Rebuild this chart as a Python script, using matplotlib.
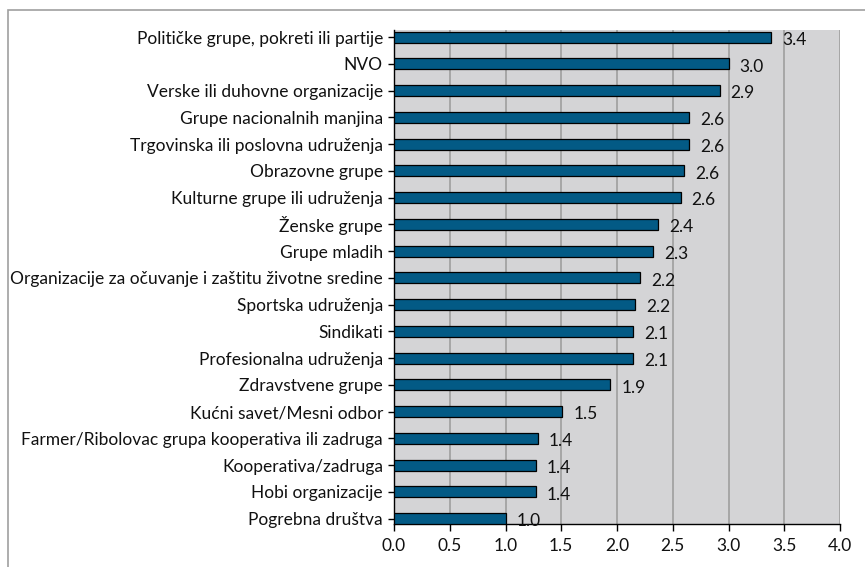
import matplotlib
matplotlib.use("Agg")
import matplotlib.pyplot as plt
from matplotlib.patches import Rectangle

categories = [
    "Političke grupe, pokreti ili partije",
    "NVO",
    "Verske ili duhovne organizacije",
    "Grupe nacionalnih manjina",
    "Trgovinska ili poslovna udruženja",
    "Obrazovne grupe",
    "Kulturne grupe ili udruženja",
    "Ženske grupe",
    "Grupe mladih",
    "Organizacije za očuvanje i zaštitu životne sredine",
    "Sportska udruženja",
    "Sindikati",
    "Profesionalna udruženja",
    "Zdravstvene grupe",
    "Kućni savet/Mesni odbor",
    "Farmer/Ribolovac grupa kooperativa ili zadruga",
    "Kooperativa/zadruga",
    "Hobi organizacije",
    "Pogrebna društva",
]
values = [3.38, 3.00, 2.92, 2.65, 2.65, 2.60, 2.57, 2.37, 2.32, 2.21,
          2.16, 2.14, 2.14, 1.94, 1.51, 1.29, 1.27, 1.27, 1.00]
value_labels = ["3.4", "3.0", "2.9", "2.6", "2.6", "2.6", "2.6", "2.4", "2.3", "2.2",
                "2.2", "2.1", "2.1", "1.9", "1.5", "1.4", "1.4", "1.4", "1.0"]
xticks = [0.0, 0.5, 1.0, 1.5, 2.0, 2.5, 3.0, 3.5, 4.0]

plt.rcParams['font.family'] = ['Lato', 'DejaVu Sans']
FS = 12.5
TXT = "#111111"

fig = plt.figure(figsize=(8.65, 5.67), dpi=100)
fig.patch.set_facecolor("white")
fig.patches.append(Rectangle((8/865, -0.1), 1.2, (567-10)/567 + 0.1,
                             transform=fig.transFigure, fill=False,
                             edgecolor="#a0a0a0", linewidth=1.2))

ax = fig.add_axes([394/865, 43/567, 446/865, 494/567])
ax.set_facecolor("#d4d4d6")

n = len(categories)
ypos = [n - 1 - i for i in range(n)]
h = 0.41
ax.barh(ypos, values, height=h, color="#035a85", edgecolor="black",
        linewidth=0.9, zorder=3)

for y, v, lab in zip(ypos, values, value_labels):
    ax.annotate(lab, xy=(v, y), xytext=(8, -2), textcoords="offset points",
                ha="left", va="center", fontsize=FS, color=TXT, zorder=4)

ax.set_xlim(0, 4.0)
ax.set_ylim(-h/2, (n - 1) + h/2 + 0.065)
ax.set_xticks(xticks)
ax.set_xticklabels([f"{t:.1f}" for t in xticks], fontsize=FS, color=TXT)
ax.set_yticks(ypos)
ax.set_yticklabels(categories, fontsize=FS, color=TXT)

ax.xaxis.grid(True, color="#a3a3a3", linewidth=1.3, zorder=1)
ax.yaxis.grid(False)
ax.set_axisbelow(True)

for s in ["top", "right"]:
    ax.spines[s].set_visible(False)
for s in ["left", "bottom"]:
    ax.spines[s].set_color("black")
    ax.spines[s].set_linewidth(1.0)

ax.tick_params(axis="x", direction="out", length=5, width=1, pad=5)
ax.tick_params(axis="y", direction="out", length=4, width=1, pad=4)

fig.savefig("out.png", dpi=100)
